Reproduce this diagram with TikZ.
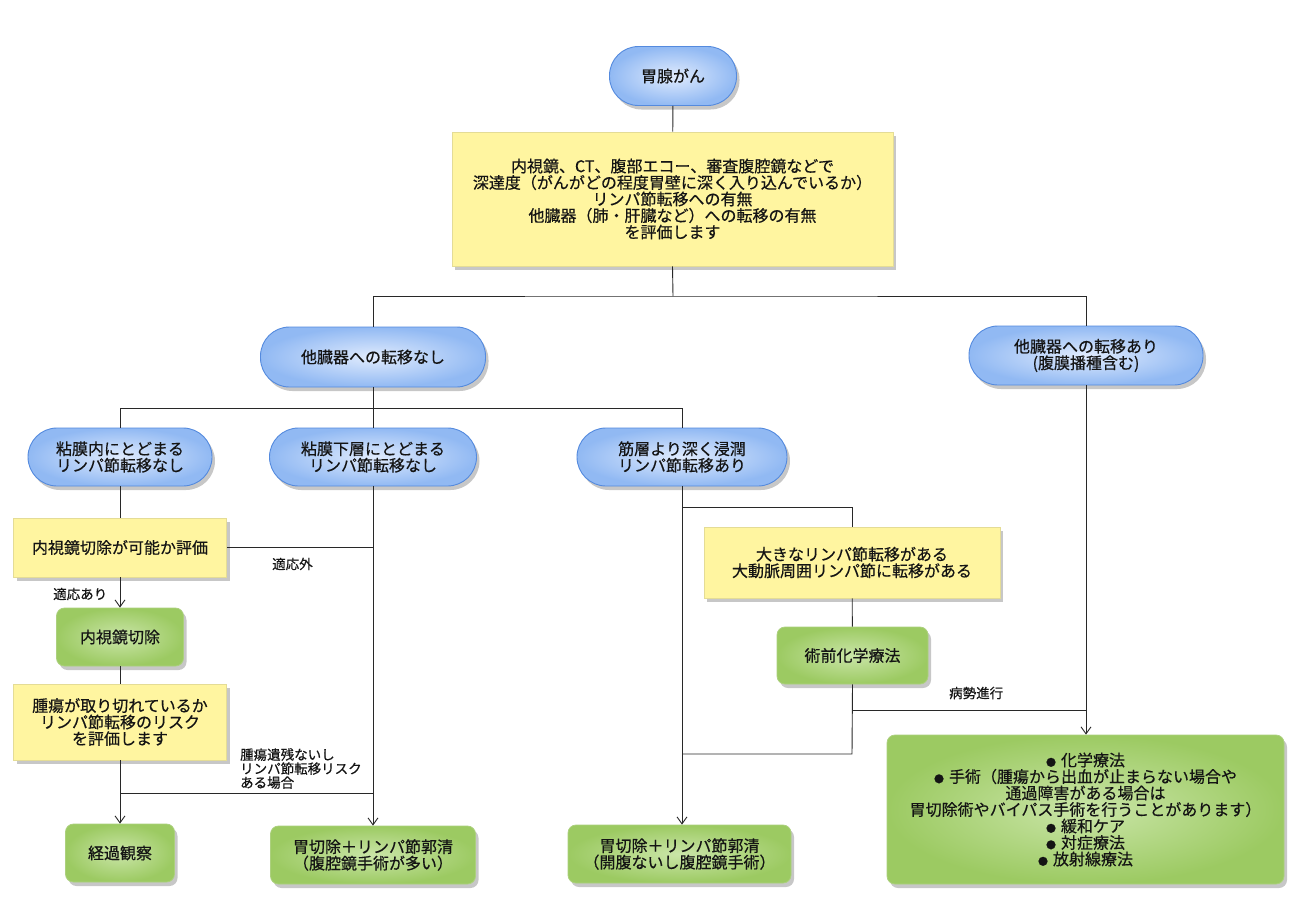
\documentclass[tikz,border=0pt]{standalone}
\usepackage{fontspec}
\setmainfont{Noto Sans CJK JP}[RawFeature={embolden=0.5}]
\usetikzlibrary{arrows.meta,shadows}
\definecolor{bluein}{RGB}{224,235,253}
\definecolor{blueout}{RGB}{145,185,243}
\definecolor{blueline}{RGB}{84,138,222}
\definecolor{greenin}{RGB}{202,229,168}
\definecolor{greenout}{RGB}{156,202,98}
\definecolor{greenline}{RGB}{172,208,126}
\definecolor{yellowfill}{RGB}{255,245,160}
\definecolor{yellowline}{RGB}{228,220,150}
\definecolor{lnk}{RGB}{40,40,40}
\definecolor{txt}{RGB}{20,20,20}
\newcommand{\bul}{{\fontsize{10}{10}\selectfont ●}\hspace{5pt}}
\tikzset{
  base/.style={align=center, text=txt, font=\fontsize{16}{16.5}\selectfont, inner sep=0pt,
    drop shadow={shadow xshift=3pt, shadow yshift=-4pt, opacity=0.22, fill=black}},
  pill/.style={base, rectangle, rounded corners=29pt, draw=blueline, line width=0.9pt,
    inner color=bluein, outer color=blueout},
  ybox/.style={base, rectangle, draw=yellowline, line width=0.8pt, fill=yellowfill},
  gbox/.style={base, rectangle, rounded corners=8pt, draw=greenline, line width=0.8pt,
    inner color=greenin, outer color=greenout},
  lab/.style={align=left, text=txt, font=\fontsize{13.5}{14}\selectfont, inner sep=0pt},
  conn/.style={draw=lnk, line width=0.9pt},
  arr/.style={conn, -{Straight Barb[length=7pt, width=10pt]}},
}
\begin{document}
\begin{tikzpicture}[x=1pt, y=-1pt]
\useasboundingbox[fill=white] (0,0) rectangle (1301,906);

% nodes
\node[pill, minimum width=127pt, minimum height=59pt] (root) at (673,76) {胃腺がん};
\node[ybox, minimum width=441pt, minimum height=134pt] (eval) at (672.5,199)
  {内視鏡、CT、腹部エコー、審査腹腔鏡などで\\深達度（がんがどの程度胃壁に深く入り込んでいるか）\\リンパ節転移への有無\\他臓器（肺・肝臓など）への転移の有無\\を評価します};
\node[pill, minimum width=225pt, minimum height=60pt] (nashi) at (373,357) {他臓器への転移なし};
\node[pill, minimum width=234pt, minimum height=59pt] (ari) at (1086,355.5) {他臓器への転移あり\\(腹膜播種含む)};
\node[pill, minimum width=184pt, minimum height=58pt] (nenmaku) at (120,457) {粘膜内にとどまる\\リンパ節転移なし};
\node[pill, minimum width=207pt, minimum height=58pt] (kasou) at (373,457) {粘膜下層にとどまる\\リンパ節転移なし};
\node[pill, minimum width=210pt, minimum height=58pt] (kinso) at (682,457) {筋層より深く浸潤\\リンパ節転移あり};
\node[ybox, minimum width=213pt, minimum height=59pt] (hyoka) at (120,547.5) {内視鏡切除が可能か評価};
\node[gbox, minimum width=127pt, minimum height=58pt] (naishi) at (120,637) {内視鏡切除};
\node[ybox, minimum width=213pt, minimum height=76pt] (shuyo) at (120,722) {腫瘍が取り切れているか\\リンパ節転移のリスク\\を評価します};
\node[gbox, minimum width=109pt, minimum height=58pt] (keika) at (120,853) {経過観察};
\node[gbox, minimum width=205pt, minimum height=58pt] (isetsu1) at (373,855) {胃切除＋リンパ節郭清\\（腹腔鏡手術が多い）};
\node[ybox, minimum width=296pt, minimum height=71pt] (ookina) at (852,562.5) {大きなリンパ節転移がある\\大動脈周囲リンパ節に転移がある};
\node[gbox, minimum width=151pt, minimum height=57pt] (jutsuzen) at (852.5,655.5) {術前化学療法};
\node[gbox, minimum width=223pt, minimum height=58pt] (isetsu2) at (679.5,854) {胃切除＋リンパ節郭清\\（開腹ないし腹腔鏡手術）};
\node[gbox, minimum width=397pt, minimum height=149pt] (final) at (1085.5,809.5)
  {\bul 化学療法\\\bul 手術（腫瘍から出血が止まらない場合や\\通過障害がある場合は\\胃切除術やバイパス手術を行うことがあります）\\\bul 緩和ケア\\\bul 対症療法\\\bul 放射線療法};

% labels
\node[lab, anchor=west] (l1) at (272,564) {適応外};
\node[lab, anchor=west] (l2) at (53,594) {適応あり};
\node[lab, anchor=north west] (l3) at (240,748) {腫瘍遺残ないし\\リンパ節転移リスク\\ある場合};
\node[lab, anchor=west] (l4) at (949,693) {病勢進行};

% junctions
\coordinate (j1) at (673,296);
\coordinate (j2) at (373,408);
\coordinate (j3) at (120,793);
\coordinate (j4) at (852,507);
\coordinate (j5) at (852,754);
\coordinate (j6) at (852,710);

% connectors
\draw[conn] (root) -- (eval);
\draw[conn] (eval.south) -- (j1);
\draw[conn] (nashi.north) |- (j1) -| (ari.north);
\draw[conn] (nashi.south) -- (kasou.north);
\draw[conn] (nenmaku.north) |- (j2) -| (kinso.north);
\draw[conn] (nenmaku) -- (hyoka);
\draw[conn] (hyoka.east) -- (hyoka.east -| kasou.south);
\draw[arr] (kasou.south) -- (isetsu1.north);
\draw[arr] (hyoka) -- (naishi);
\draw[conn] (naishi) -- (shuyo);
\draw[arr] (shuyo) -- (keika);
\draw[conn] (j3) -- (j3 -| kasou.south);
\draw[arr] (kinso.south) -- (kinso.south |- isetsu2.north);
\draw[conn] (kinso.south) |- (j4) -- (ookina.north);
\draw[conn] (ookina) -- (jutsuzen);
\draw[conn] (jutsuzen.south) -- (j5) -- (j5 -| kinso.south);
\draw[conn] (j6) -- (j6 -| ari.south);
\draw[arr] (ari.south) -- (ari.south |- final.north);
\end{tikzpicture}
\end{document}
